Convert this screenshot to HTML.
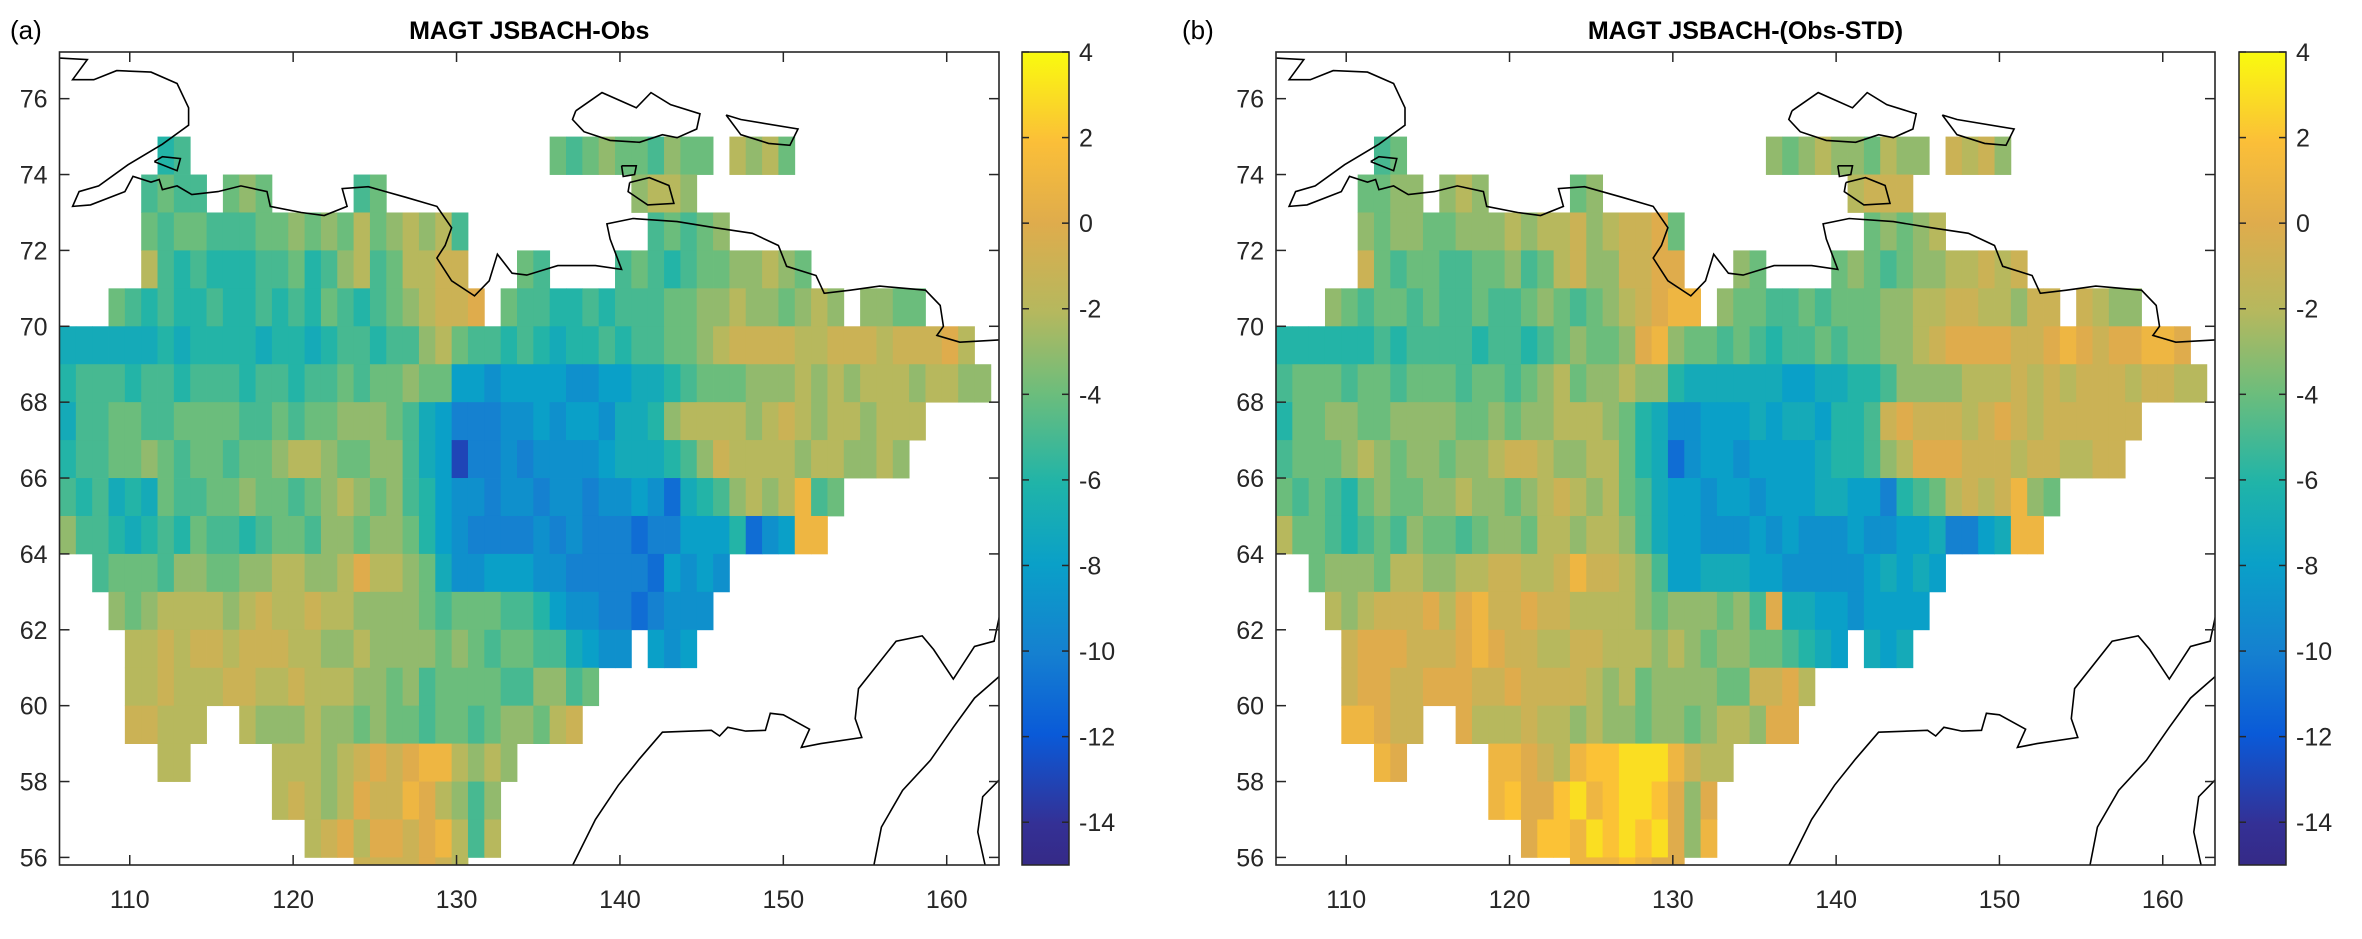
<!DOCTYPE html>
<html><head><meta charset="utf-8"><style>
html,body{margin:0;padding:0;background:#fff;}
svg{display:block;font-family:"Liberation Sans",Arial,sans-serif;}
</style></head><body>
<svg id="chart" width="2362" height="939" viewBox="0 0 2362 939" xmlns="http://www.w3.org/2000/svg">
<defs>
<linearGradient id="parula" x1="0" y1="1" x2="0" y2="0">
<stop offset="0" stop-color="#352a87"/><stop offset="0.05" stop-color="#343095"/><stop offset="0.16" stop-color="#0a5ad8"/><stop offset="0.26" stop-color="#1580d0"/><stop offset="0.37" stop-color="#0aa0c8"/><stop offset="0.47" stop-color="#20b4a8"/><stop offset="0.58" stop-color="#6cbd7c"/><stop offset="0.68" stop-color="#b5b85e"/><stop offset="0.79" stop-color="#dfac4c"/><stop offset="0.89" stop-color="#fbbf38"/><stop offset="1" stop-color="#f9fb0e"/>
</linearGradient>
<clipPath id="clipA"><rect x="59.5" y="52" width="939.5" height="813"/></clipPath>
<clipPath id="clipB"><rect x="1276" y="52" width="939" height="813"/></clipPath>
</defs>
</svg>
<script>
// value codes: a=-15 ... t=4, '.'=no data; rows top (lat 76-77) to bottom (55-56); columns lon 106..162
const codes = "abcdefghijklmnopqrst";
const rowsA = [
"","",
"......jk.."+".........."+".........."+"lklmllkmll"+".nmnl",
".....klkk."+"lml.....kl"+".........."+".....mnnm.",
".....lkllk"+"kkllmlmlnl"+"mnmnk....."+"......klkl"+"m",
".....nkjkj"+"jjkkljkmnk"+"lnnoo...lk"+"....klkjkl"+"lmmnml",
"...lkjkjjk"+"jjkjkjlkjk"+"lmnoop.lkk"+"jjkjkkkllm"+"mnmmlmnm.m"+"mll",
"iiiiiijijj"+"jjijjijkkj"+"kkmnlkkjkj"+"ijjkjkkllm"+"noooonnooo"+"nooopn",
"jkkkjkkjkk"+"kjkkjkklkl"+"lmllhhghhh"+"hgghhiijkl"+"llmmmnmnmn"+"nnmnnmm",
"ikkllkklll"+"lkklkllmmm"+"lkihfffggh"+"ghhgiijmnn"+"nnmnonmnnm"+"nnn",
"jkkllmlkll"+"kllmnnmllm"+"mkihcffgfg"+"ggghiiijkm"+"onnnnmnnmm"+"nm",
"kjkijilkkl"+"lmllklmnml"+"mkjhggfggf"+"ggfgghgeij"+"kmnmnqkl",
"mkkjijkjlk"+"kjkllkmmlm"+"mljhgffffg"+"fgfffeffhh"+"hjeghqq",
"..klllkmml"+"lmmnnmmnpn"+"nmligghhhg"+"gfffffehgh"+"g",
"...mlmnnnn"+"mnonnonnmm"+"mmlklllkkj"+"hggffefggg",
"....nnonoo"+"nooonnmmnm"+"mmmlmlkllk"+"kihgg.hgh",
"....nnonnn"+"oonnonnnmm"+"lmkllllkkm"+"mkl",
"....oonnn."+".nmmmnmmlm"+"llkllklmml"+"no",
"......nn.."+"...nnnmnop"+"opqqnmnm",
".........."+"...nonmnpo"+"oqpnmkm",
".........."+".....nopnp"+"popqnkn",
".........."+"........oo"+"oopon"
];
const rowsB = [
"","",
"......kl.."+".........."+".........."+"mlmnmmlnmm"+".onom",
".....llmm."+"mnm.....lm"+".........."+".....nooo.",
".....mlmml"+"lmmmnmnnom"+"noopl....."+"......lmlm"+"n",
".....olkll"+"kkllmklnom"+"moopp...ml"+"....lmlklm"+"mnnono",
"...mlkllkl"+"kklkklmlkl"+"mnopqq.mll"+"kklklllmmn"+"noonnmoo.o"+"nmm",
"jjjjjjkjkk"+"kkjkkjklml"+"lmpqmllklk"+"jkklkllmmn"+"oppppoopqp"+"oppqqp",
"klllkllkll"+"lkllklmnlm"+"mnmmjiiiii"+"ihhiijjkmm"+"mmnnnonono"+"oonoonn",
"jllmmllmmm"+"mllmlmmnnn"+"mljigghhhi"+"hiihjjkopo"+"oonoponooo"+"ooo",
"klllmnmlmm"+"lmmnoonmmn"+"nljieghhgh"+"hhhijjkmnp"+"ppooonoonn"+"oo",
"lklkjlmllm"+"mnmmlmnonm"+"nlkihhghhg"+"hhhiihhfjk"+"lnonoqml",
"nllkjklkml"+"lklmmlnnmn"+"nmkihhgggh"+"ghggghgghh"+"iffhiqq",
"..lmmmlnnm"+"mnnoonnoqo"+"onmkhhiiih"+"hggggghihi"+"h",
"...nmnooop"+"npqoopoonn"+"nnmlmmmlmk"+"piihhghhhh",
"....opppoo"+"opqpoonnoo"+"nnnmnmlmml"+"lkjih.ihi",
"....oppoop"+"ppoopoooon"+"mnlmmmmllo"+"opn",
"....qqpoo."+".pnnnonnmn"+"mmlmmlmnnm"+"pp",
"......qp.."+"...qqponqr"+"rsssqonn",
".........."+"...qrpprsq"+"rssrpmp",
".........."+".....prrqs"+"rsrspmq",
".........."+"........qq"+"qrqpp"
];
const xTicks = [110,120,130,140,150,160];
const yTicks = [56,58,60,62,64,66,68,70,72,74,76];
const cbTicks = [4,2,0,-2,-4,-6,-8,-10,-12,-14];
const titles = ["MAGT JSBACH-Obs","MAGT JSBACH-(Obs-STD)"];
const panelLabels = ["(a)","(b)"];
// coastlines [lon,lat]
const coastMain = [[105.7,77.07],[107.4,77.03],[106.5,76.5],[107.8,76.5],[109.2,76.74],[111.3,76.7],[112.9,76.4],[113.6,75.76],[113.6,75.3],[112,74.8],[109.9,74.26],[108.1,73.7],[106.9,73.55],[106.5,73.16],[107.6,73.2],[109.7,73.55],[110.2,73.95],[111.3,73.8],[111.8,73.87],[112,73.6],[112.9,73.7],[113.8,73.47],[115.4,73.55],[116.8,73.7],[118.4,73.55],[118.6,73.16],[120.5,73],[121.9,72.92],[123.3,73.16],[123,73.63],[124.6,73.68],[126.9,73.4],[128.8,73.16],[129.7,72.6],[129.3,72.13],[128.8,71.8],[129.7,71.2],[131.1,70.8],[132,71.2],[132.5,71.9],[133.4,71.4],[134.3,71.35],[136.2,71.6],[138.5,71.6],[140.1,71.5],[139.4,72.3],[139.2,72.7],[140.8,72.84],[143.5,72.76],[145.8,72.6],[148.1,72.45],[149.7,72.13],[150.2,71.58],[152,71.34],[152.5,70.87],[154.1,70.95],[155.9,71.06],[158.7,70.95],[159.6,70.55],[159.8,70],[159.4,69.76],[160.8,69.58],[163.2,69.64]];
const coastIsl1 = [[111.5,74.34],[112,74.47],[113.1,74.42],[112.9,74.1],[111.5,74.34]];
const coastIsl2 = [[137.3,75.68],[138.9,76.16],[141,75.76],[141.9,76.16],[143.1,75.84],[144.9,75.6],[144.7,75.2],[143.5,74.97],[142.6,75.05],[141.2,74.85],[139.4,74.9],[137.8,75.13],[137.1,75.45],[137.3,75.68]];
const coastIsl3 = [[146.5,75.57],[147.4,75.45],[150.9,75.2],[150.4,74.77],[149.1,74.82],[147.4,75.05],[146.5,75.57]];
const coastIsl4 = [[140.1,74.23],[141,74.23],[140.9,74],[140.2,73.95],[140.1,74.23]];
const coastIsl5 = [[140.6,73.79],[141.8,73.92],[143,73.71],[143.3,73.24],[141.7,73.2],[140.5,73.55],[140.6,73.79]];
const coastOkhotsk = [[137,55.7],[138.5,57],[139.9,57.9],[141.2,58.6],[142.6,59.3],[145.6,59.35],[146.1,59.2],[146.6,59.43],[147.7,59.33],[148.9,59.35],[149.2,59.8],[150,59.76],[151.6,59.38],[151.1,58.9],[152.3,59],[154.8,59.16],[154.4,59.66],[154.6,60.45],[156.9,61.7],[158.5,61.84],[159.2,61.48],[160.4,60.7],[161.7,61.56],[162.9,61.7],[163.3,62.5]];
const coastKam = [[155.5,55.7],[156,56.8],[157.3,57.77],[159,58.56],[160.4,59.43],[161.7,60.2],[163.3,60.8]];
const coastKam2 = [[163.3,58.08],[162.2,57.6],[161.9,56.67],[162.4,55.7]];
const coasts = [coastMain,coastIsl1,coastIsl2,coastIsl3,coastIsl4,coastIsl5,coastOkhotsk,coastKam,coastKam2];

const NS="http://www.w3.org/2000/svg";
const svg=document.getElementById('chart');
const LON0=105.7,LON1=163.2,LAT0=55.8,LAT1=77.23,VMIN=-15,VMAX=4;
const TOP=52,H=813;
const stops=[[0,[0x35,0x2a,0x87]],[0.05,[0x34,0x30,0x95]],[0.16,[0x0a,0x5a,0xd8]],[0.26,[0x15,0x80,0xd0]],[0.37,[0x0a,0xa0,0xc8]],[0.47,[0x20,0xb4,0xa8]],[0.58,[0x6c,0xbd,0x7c]],[0.68,[0xb5,0xb8,0x5e]],[0.79,[0xdf,0xac,0x4c]],[0.89,[0xfb,0xbf,0x38]],[1,[0xf9,0xfb,0x0e]]];
function cmap(v){let t=(v-VMIN)/(VMAX-VMIN);t=Math.max(0,Math.min(1,t));
 for(let i=1;i<stops.length;i++){if(t<=stops[i][0]){const a=stops[i-1],b=stops[i];const f=(t-a[0])/(b[0]-a[0]);
 const c=a[1].map((x,k)=>Math.round(x+(b[1][k]-x)*f));return `rgb(${c[0]},${c[1]},${c[2]})`;}}return 'rgb(249,251,14)';}
function mk(tag,attrs,parent){const e=document.createElementNS(NS,tag);for(const k in attrs)e.setAttribute(k,attrs[k]);(parent||svg).appendChild(e);return e;}

function drawPanel(p,left,width,cbLeft,rows,clipId){
 const X=lon=>left+(lon-LON0)/(LON1-LON0)*width;
 const Y=lat=>TOP+(LAT1-lat)/(LAT1-LAT0)*H;
 const g=mk('g',{'clip-path':`url(#${clipId})`});
 
 
 rows.forEach((row,r)=>{
  const latTop=77-r;
  for(let c=0;c<row.length;c++){
   const ch=row[c];if(ch==='.')continue;
   const v=codes.indexOf(ch)+VMIN;
   const lon=105.7+c;
   const rect=mk('rect',{x:X(lon).toFixed(2),y:Y(latTop).toFixed(2),width:(X(lon+1)-X(lon)+0.4).toFixed(2),height:(Y(latTop-1)-Y(latTop)+0.4).toFixed(2),fill:cmap(v)},g);
   
   
  }
 });
 coasts.forEach(cs=>{
  const pl=mk('polyline',{points:cs.map(q=>X(q[0]).toFixed(1)+','+Y(q[1]).toFixed(1)).join(' '),fill:'none',stroke:'#000','stroke-width':1.6},g);
  
  
 });
 const box=mk('rect',{x:left,y:TOP,width:width,height:H,fill:'none',stroke:'#262626','stroke-width':1.6});
 
 
 xTicks.forEach(t=>{const x=X(t);
  mk('line',{x1:x,y1:TOP+H,x2:x,y2:TOP+H-10,stroke:'#262626','stroke-width':1.5});
  mk('line',{x1:x,y1:TOP,x2:x,y2:TOP+10,stroke:'#262626','stroke-width':1.5});
  const tx=mk('text',{x:x,y:908,'font-size':25,fill:'#262626','text-anchor':'middle'});tx.textContent=t;
  
  
 });
 yTicks.forEach(t=>{const y=Y(t);
  mk('line',{x1:left,y1:y,x2:left+10,y2:y,stroke:'#262626','stroke-width':1.5});
  mk('line',{x1:left+width,y1:y,x2:left+width-10,y2:y,stroke:'#262626','stroke-width':1.5});
  const tx=mk('text',{x:left-12,y:y+9,'font-size':25,fill:'#262626','text-anchor':'end'});tx.textContent=t;
  
  
 });
 const ti=mk('text',{x:left+width/2,y:39,'font-size':25,'font-weight':'bold',fill:'#000','text-anchor':'middle'});ti.textContent=titles[p==='a'?0:1];
 
 
 const pl=mk('text',{x:p==='a'?10:1182,y:39,'font-size':26,fill:'#000'});pl.textContent=panelLabels[p==='a'?0:1];
 
 
 const cb=mk('rect',{x:cbLeft,y:TOP,width:47,height:H,fill:'url(#parula)',stroke:'#262626','stroke-width':1.5});
 
 
 const CY=v=>TOP+(VMAX-v)/(VMAX-VMIN)*H;
 cbTicks.forEach(t=>{const y=CY(t);
  mk('line',{x1:cbLeft+47,y1:y,x2:cbLeft+40,y2:y,stroke:'#262626','stroke-width':1.5});
  mk('line',{x1:cbLeft,y1:y,x2:cbLeft+7,y2:y,stroke:'#262626','stroke-width':1.5});
  const tx=mk('text',{x:cbLeft+57,y:y+9,'font-size':25,fill:'#262626'});tx.textContent=t;
  
  
 });
}
drawPanel('a',59.5,939.5,1022,rowsA,'clipA');
drawPanel('b',1276,939,2239,rowsB,'clipB');
</script>
</body></html>
